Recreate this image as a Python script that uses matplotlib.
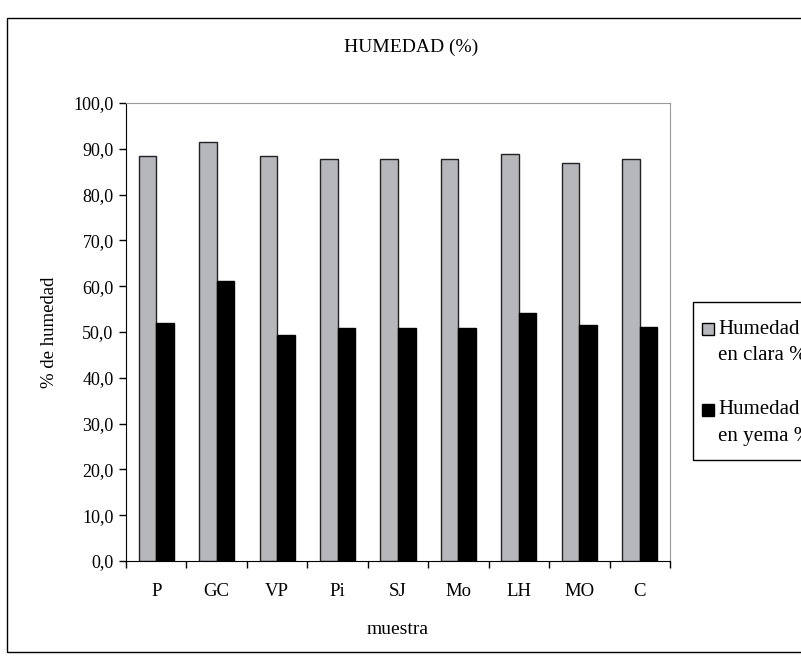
import matplotlib
matplotlib.use("Agg")
import matplotlib.pyplot as plt
from matplotlib.patches import Rectangle
import numpy as np

muestras = ["P", "GC", "VP", "Pi", "SJ", "Mo", "LH", "MO", "C"]
humedad_clara = [88.4, 91.4, 88.4, 87.8, 87.8, 87.8, 88.9, 86.9, 87.8]
humedad_yema = [51.9, 61.1, 49.3, 50.9, 50.9, 50.9, 54.2, 51.5, 51.2]
series_labels = [("Humedad", "en clara %"), ("Humedad", "en yema %")]
series_colors = ["#b6b7bb", "black"]
yticks = np.arange(0, 101, 10)

plt.rcParams["font.family"] = ["Liberation Serif", "DejaVu Serif"]
fs = 13

W, H = 801, 659
fig = plt.figure(figsize=(W / 100, H / 100), dpi=100)


def fx(px):
    return px / W


def fy(py):
    return 1 - py / H


# outer chart frame
fig.patches.append(Rectangle((fx(7), fy(652)), 1.0, (652 - 18) / H,
                             transform=fig.transFigure, fill=False,
                             edgecolor="black", linewidth=1.0))

left, right, top, bottom = 126, 670, 103, 561
ax = fig.add_axes([fx(left), fy(bottom), (right - left) / W, (bottom - top) / H])

x = np.arange(len(muestras))
bw = 0.29
ax.bar(x - bw / 2, humedad_clara, bw, color=series_colors[0], edgecolor="#222222",
       linewidth=1.0)
ax.bar(x + bw / 2, humedad_yema, bw, color=series_colors[1], edgecolor="black",
       linewidth=1.0)

ax.set_xlim(-0.5, len(muestras) - 0.5)
ax.set_ylim(0, 100)
ax.set_yticks(yticks)
ax.set_yticklabels([f"{v:.1f}".replace(".", ",") for v in yticks], fontsize=fs)
ax.set_xticks(x)
ax.set_xticklabels(muestras, fontsize=fs + 0.5)
ax.tick_params(axis="x", length=0, pad=16)
ax.set_xticks(np.arange(-0.5, len(muestras), 1), minor=True)
ax.tick_params(axis="x", which="minor", length=5, direction="out", width=1)
ax.tick_params(axis="y", length=5, direction="out", width=1, pad=4)

for s in ("top", "right"):
    ax.spines[s].set_color("#9a9a9a")
for s in ("left", "bottom"):
    ax.spines[s].set_color("black")

ax.set_xlabel("muestra", fontsize=fs + 1, labelpad=15)
ax.set_ylabel("% de humedad", fontsize=fs + 0.5, labelpad=11)
fig.text(fx(411), fy(47), "HUMEDAD (%)", ha="center", va="center", fontsize=fs + 1)

# legend box with one square per series next to a two-line label
fig.patches.append(Rectangle((fx(693), fy(460)), 1.0, (460 - 302) / H,
                             transform=fig.transFigure, facecolor="white",
                             edgecolor="black", linewidth=1.0))
for i, ((l1, l2), col) in enumerate(zip(series_labels, series_colors)):
    yc = 329 + i * 81
    fig.patches.append(Rectangle((fx(702), fy(yc + 6)), 12 / W, 12 / H,
                                 transform=fig.transFigure, facecolor=col,
                                 edgecolor="black", linewidth=1.0))
    fig.text(fx(718), fy(yc), l1, ha="left", va="center", fontsize=fs + 2)
    fig.text(fx(718), fy(yc + 26), l2, ha="left", va="center", fontsize=fs + 2)

fig.savefig("out.png", dpi=100)
